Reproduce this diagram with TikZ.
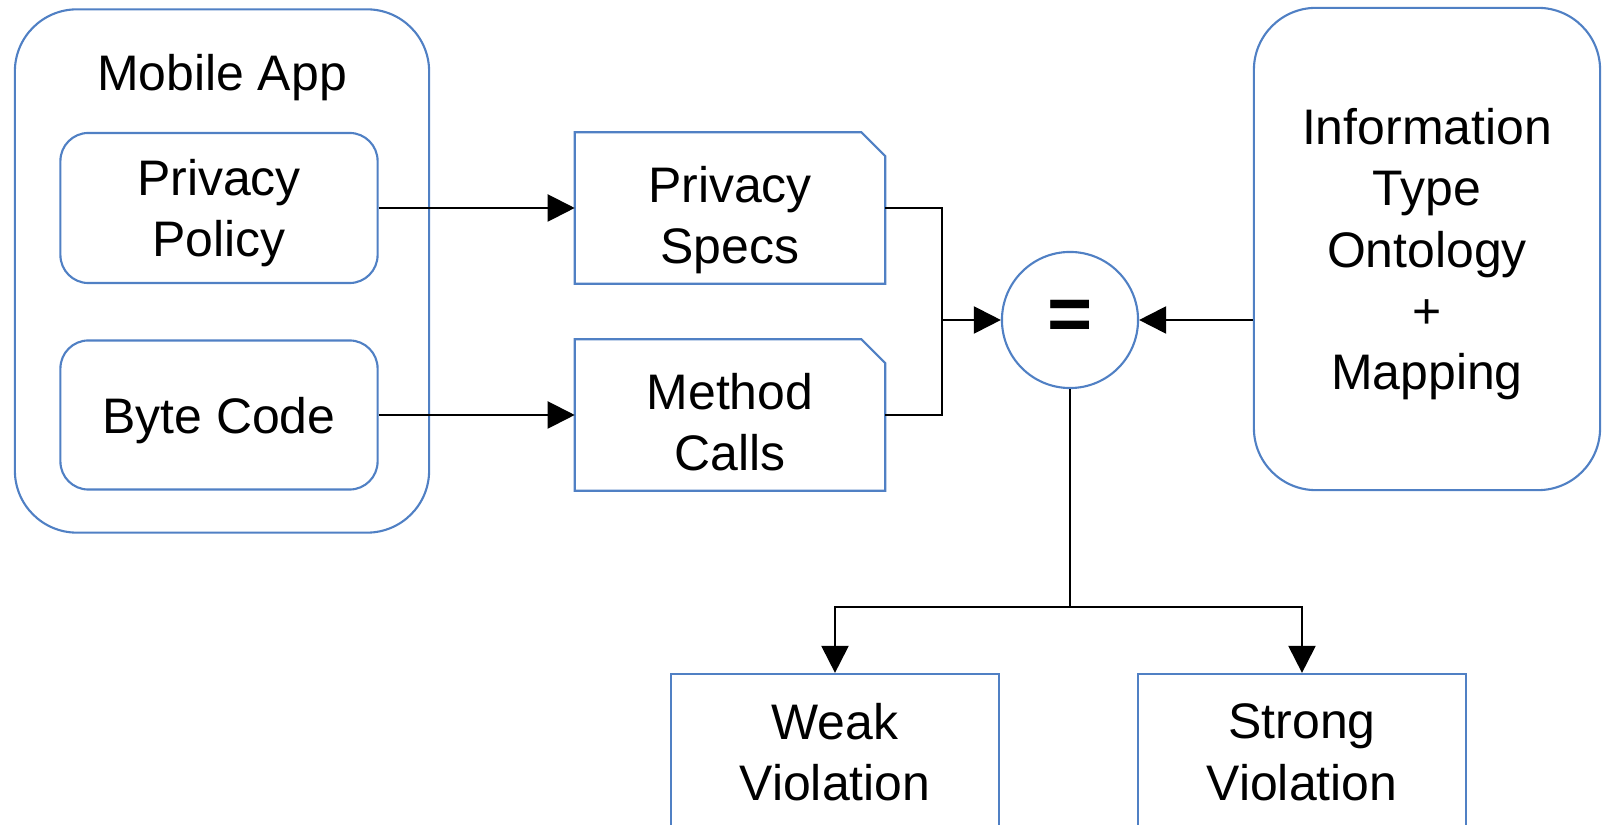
\documentclass[tikz,border=0pt]{standalone}
\usepackage{fontspec}
\setmainfont{Liberation Sans}
\usetikzlibrary{arrows.meta}

\definecolor{boxblue}{RGB}{80,128,196}

\begin{document}
\begin{tikzpicture}[x=0.01cm,y=-0.01cm,
	>={Triangle[length=0.27cm,width=0.27cm]},
	every node/.style={font=\fontsize{14.2}{17.4}\selectfont, align=center, inner sep=0pt, text depth=0pt},
	roundbox/.style={draw=boxblue, line width=0.6pt, rounded corners=0.28cm},
	plainbox/.style={draw=boxblue, line width=0.6pt},
	docbox/.style={minimum width=3.09cm, minimum height=1.5cm, text height=1.11cm},
	link/.style={line width=0.6pt}]
					\useasboundingbox (0,0) rectangle (1602,825);
					\clip (0,0) rectangle (1602,825);
					
					%APP
					\node[roundbox, rounded corners=0.62cm, minimum width=4.14cm, minimum height=5.23cm] (app) at (222,271) {};
					\node (apptitle) at (222,72) {Mobile App};
					\node[roundbox, minimum width=3.17cm, minimum height=1.5cm] (policy) at (219,208) {Privacy\\Policy};
					\node[roundbox, minimum width=3.17cm, minimum height=1.49cm] (bytecode) at (219,415) {Byte Code};
					
					%SPECS
					\node[docbox] (specs) at (730,208) {Privacy\\Specs};
					\node[docbox] (calls) at (730,415) {Method\\Calls};
					\foreach \doc in {specs,calls}
						\draw[plainbox] (\doc.north west) -- ([xshift=-0.24cm]\doc.north east) -- ([yshift=-0.24cm]\doc.north east) -- (\doc.south east) -- (\doc.south west) -- cycle;
					
					%MATCH
					\node[circle, draw=boxblue, line width=0.6pt, minimum size=1.36cm, font=\fontsize{22}{22}\bfseries\selectfont] (eq) at (1070,320) {=};
					\node[roundbox, rounded corners=0.62cm, minimum width=3.46cm, minimum height=4.82cm] (onto) at (1427,249) {Information\\Type\\Ontology\\+\\Mapping};
					
					%RESULTS
					\node[plainbox, minimum width=3.27cm, minimum height=1.56cm] (weak) at (835,752) {Weak\\Violation};
					\node[plainbox, minimum width=3.27cm, minimum height=1.56cm] (strong) at (1302,752) {Strong\\Violation};
					
					\coordinate (merge) at (942,320);
					\coordinate (split) at (1070,607);
					
					\draw[link,->] (policy.east) -- (specs.west);
					\draw[link,->] (bytecode.east) -- (calls.west);
					\draw[link,->] (specs.east) -| (merge) -- (eq.west);
					\draw[link] (calls.east) -| (merge);
					\draw[link,->] (eq.east -| onto.west) -- (eq.east);
					\draw[link] (eq.south) -- (split);
					\draw[link,->] (split) -| (weak.north);
					\draw[link,->] (split) -| (strong.north);
					
\end{tikzpicture}
\end{document}
